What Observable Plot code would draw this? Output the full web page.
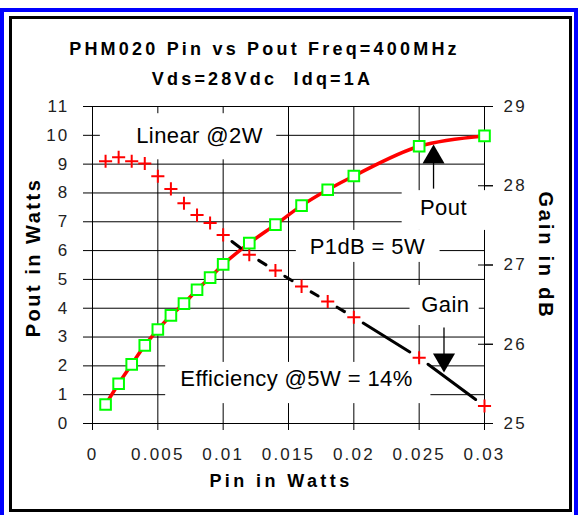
<!DOCTYPE html>
<html><head><meta charset="utf-8">
<script src="https://cdn.jsdelivr.net/npm/d3@7"></script>
<script src="https://cdn.jsdelivr.net/npm/@observablehq/plot@0.6"></script>
<style>
html,body{margin:0;padding:0;background:#fff;}
#wrap{position:relative;width:578px;height:515px;overflow:hidden;}
#blue{position:absolute;left:0;top:8px;width:578px;height:530px;box-sizing:border-box;border:4px solid #0000ff;}
#frame{position:absolute;left:9px;top:16px;width:563px;height:496px;box-sizing:border-box;border:3px solid #000;}
#chart{position:absolute;left:0;top:0;}
#chart svg text{font-family:"Liberation Sans",Arial,sans-serif;}
</style></head>
<body><div id="wrap"><div id="blue"></div><div id="frame"></div><div id="chart"></div></div>
<script>
// ---- data ----
const pinW   = [0.001,0.002,0.003,0.004,0.005,0.006,0.007,0.008,0.009,0.010,0.012,0.014,0.016,0.018,0.020,0.025,0.030];
const poutW  = [0.66,1.38,2.05,2.71,3.26,3.75,4.16,4.64,5.06,5.52,6.26,6.90,7.56,8.11,8.59,9.62,9.98];
const gainDb = [28.31,28.36,28.31,28.28,28.12,27.96,27.78,27.63,27.53,27.38,27.13,26.93,26.73,26.54,26.34,25.83,25.22];
const xTicks = [0,0.005,0.01,0.015,0.02,0.025,0.03];
const xTickLabels = ["0","0.005","0.01","0.015","0.02","0.025","0.03"];
const poutTicks = [0,1,2,3,4,5,6,7,8,9,10,11];
const gainTicks = [25,26,27,28,29];
const titleLines = ["PHM020 Pin vs Pout Freq=400MHz","Vds=28Vdc  Idq=1A"];
const xTitle = "Pin in Watts", yTitle = "Pout in Watts", y2Title = "Gain in dB";

// annotation text boxes (data units of the Pout axis)
const notes = [
  {text:"Linear @2W",            x:0.00819, y:9.99, x1:0.0006, x2:0.0141, y1:9.15, y2:10.75},
  {text:"Pout",                  x:0.02686, y:7.49, x1:0.0237, x2:0.0305, y1:6.70, y2:8.08},
  {text:"P1dB = 5W",             x:0.02104, y:6.14, x1:0.0156, x2:0.0266, y1:5.59, y2:6.70},
  {text:"Gain",                  x:0.02700, y:4.13, x1:0.0243, x2:0.0296, y1:3.40, y2:4.79},
  {text:"Efficiency @5W = 14%",  x:0.01561, y:1.56, x1:0.0056, x2:0.0259, y1:0.69, y2:2.12}
];
const pointers = [
  {x:0.0261, yFrom:8.15, yTo:9.40, head:9.24, rot:0},
  {x:0.0269, yFrom:3.33, yTo:2.00, head:2.21, rot:180}
];

// ---- scales helpers ----
const gainMin = 25, gainMax = 29, poutMax = 11;
const g2p = g => (g - gainMin) * poutMax / (gainMax - gainMin);
const gainLabel = new Map(gainTicks.map(g => [g2p(g), String(g)]));
const xLabel = new Map(xTicks.map((t,i) => [t, xTickLabels[i]]));

const points = pinW.map((x,i) => ({pin:x, pout:poutW[i], gain:gainDb[i]}));
const segs = points.slice(1).map((p,i) => ({x1:points[i].pin, y1:g2p(points[i].gain), x2:p.pin, y2:g2p(p.gain)}));

const chart = Plot.plot({
  width:578, height:515,
  marginLeft:92, marginRight:94, marginTop:106, marginBottom:92,
  x:{domain:[0,0.03]},
  y:{domain:[0,poutMax]},
  style:{fontFamily:"Liberation Sans, Arial, sans-serif", fontSize:"17px", color:"#000", background:"transparent", overflow:"visible"},
  marks:[
    Plot.gridX(xTicks,{stroke:"#000", strokeOpacity:1, strokeWidth:1}),
    Plot.gridY(poutTicks,{stroke:"#000", strokeOpacity:1, strokeWidth:1}),
    Plot.rect(notes,{x1:"x1", x2:"x2", y1:"y1", y2:"y2", fill:"#fff"}),
    Plot.axisX(xTicks,{tickSize:7, tickPadding:17, tickFormat:d => xLabel.get(d), label:null, fill:"#222"}),
    Plot.axisY(poutTicks,{tickSize:9, tickPadding:14, label:null, fill:"#222"}),
    Plot.axisY(gainTicks.map(g2p),{anchor:"right", tickSize:15, dx:-7, tickFormat:() => "", label:null}),
    Plot.axisY(gainTicks.map(g2p),{anchor:"right", tickSize:8, tickPadding:11, tickFormat:d => gainLabel.get(d), label:null, fill:"#222"}),
    Plot.line(points,{x:"pin", y:"pout", stroke:"#ff0000", strokeWidth:3.5, curve:"catmull-rom"}),
    Plot.arrow(segs,{x1:"x1", y1:"y1", x2:"x2", y2:"y2", stroke:"#000", strokeWidth:3, headLength:0, insetStart:11, insetEnd:11}),
    Plot.dot(points,{x:"pin", y:d => g2p(d.gain), symbol:"plus", r:4.3, stroke:"#ff0000", strokeWidth:2}),
    Plot.dot(points,{x:"pin", y:"pout", symbol:"square", r:6, stroke:"#00ff00", fill:"#fff", strokeWidth:2}),
    Plot.text(notes,{x:"x", y:"y", text:"text", fontSize:22, fill:"#000"}),
    Plot.link(pointers,{x1:"x", x2:"x", y1:"yFrom", y2:"yTo", stroke:"#000", strokeWidth:1.3}),
    Plot.dot(pointers,{x:"x", y:"head", symbol:"triangle", r:8.2, fill:"#000", stroke:null, rotate:"rot"}),
    Plot.text([titleLines[0]],{frameAnchor:"top", textAnchor:"middle", text:d => d, dx:-24, dy:-64.5, fontSize:18, fontWeight:"bold", fill:"#000"}),
    Plot.text([titleLines[1]],{frameAnchor:"top", textAnchor:"middle", text:d => d, dx:-26, dy:-34.5, fontSize:18, fontWeight:"bold", fill:"#000"}),
    Plot.text([xTitle],{frameAnchor:"bottom", textAnchor:"middle", text:d => d, dx:-7.5, dy:63.5, fontSize:18, fontWeight:"bold", fill:"#000"}),
    Plot.text([yTitle],{frameAnchor:"left", textAnchor:"middle", text:d => d, rotate:-90, dx:-59, dy:-7.5, fontSize:20, fontWeight:"bold", fill:"#000"}),
    Plot.text([y2Title],{frameAnchor:"right", textAnchor:"middle", text:d => d, rotate:90, dx:61, dy:-9.5, fontSize:20, fontWeight:"bold", fill:"#000"})
  ]
});
document.getElementById("chart").appendChild(chart);

// letter spacing to mimic the original rendering
const spacing = new Map([
  [titleLines[0],"3.2px"],[titleLines[1],"3.2px"],[xTitle,"3.4px"],[yTitle,"2.5px"],[y2Title,"2.8px"]
]);
d3.select(chart).selectAll("text").each(function(){
  const t = this.textContent;
  if (spacing.has(t)) this.style.letterSpacing = spacing.get(t);
  else if (/^[0-9.]+$/.test(t)) this.style.letterSpacing = "2.2px";
  else this.style.letterSpacing = "0.4px";
});
</script></body></html>
